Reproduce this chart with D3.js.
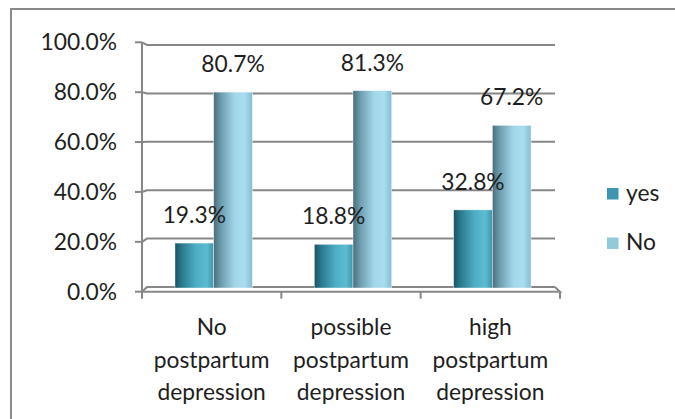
<!DOCTYPE html>
<html>
<head>
<meta charset="utf-8">
<script src="https://cdn.jsdelivr.net/npm/d3@7"></script>
<style>
  html, body { margin: 0; padding: 0; background: #fff; }
  svg { display: block; }
  text { font-family: Lato, "Noto Sans", sans-serif; fill: #1e1e1e; }
</style>
</head>
<body>
<svg id="chart" width="675" height="419"></svg>
<script>
// Depression level categories and share of answers per series
const categories = [
  ["No", "postpartum", "depression"],
  ["possible", "postpartum", "depression"],
  ["high", "postpartum", "depression"]
];
const seriesNames = ["yes", "No"];
const yesValues = [0.193, 0.188, 0.328];
const noValues = [0.807, 0.813, 0.672];
const yTicks = [0, 0.2, 0.4, 0.6, 0.8, 1.0];

const svg = d3.select("#chart");
const W = 675, H = 419;
const fontSize = 22.8;

// outer frame (right and bottom edges run off the page)
svg.append("rect")
  .attr("x", 11).attr("y", 9)
  .attr("width", W + 10).attr("height", H + 10)
  .attr("fill", "#fff")
  .attr("stroke", "#8a8a8a").attr("stroke-width", 2);

// 3D plot geometry: a front plane (axis ticks) and a back wall (gridlines)
const plot = { left: 142, right: 560, depth: 5 };
const yFront = d3.scaleLinear().domain([0, 1]).range([291.7, 42.3]);
const yBack = d3.scaleLinear().domain([0, 1]).range([287, 45]);
const yBar = d3.scaleLinear().domain([0, 1]).range([290.5, 44.7]);

const catIdx = d3.range(categories.length);
const x0 = d3.scaleBand().domain(catIdx).range([plot.left, plot.right]).padding(0);
const x1 = d3.scaleBand().domain(seriesNames).range([0, x0.bandwidth()])
  .paddingInner(0).paddingOuter(0.8);
const barShift = 2;

const gridColor = "#878787";

// back-wall gridlines with the short perspective leg back to the axis
const grid = svg.append("g");
yTicks.forEach(t => {
  grid.append("path")
    .attr("d", `M${plot.left},${yFront(t)} L${plot.left + plot.depth},${yBack(t)} L${plot.right - plot.depth},${yBack(t)}`)
    .attr("fill", "none").attr("stroke", gridColor).attr("stroke-width", 2);
});

// value axis: line, ticks and labels
const yAxisG = svg.append("g");
yAxisG.append("line")
  .attr("x1", plot.left).attr("x2", plot.left)
  .attr("y1", yFront(1)).attr("y2", yFront(0))
  .attr("stroke", gridColor).attr("stroke-width", 2);
yTicks.forEach(t => {
  yAxisG.append("line")
    .attr("x1", plot.left - 7).attr("x2", plot.left)
    .attr("y1", yFront(t)).attr("y2", yFront(t))
    .attr("stroke", gridColor).attr("stroke-width", 2);
});
const fmt = d3.format(".1%");
yAxisG.selectAll("text.ytick").data(yTicks).join("text")
  .attr("class", "ytick")
  .attr("x", 117)
  .attr("y", d => yFront(d) + 8)
  .attr("text-anchor", "end")
  .attr("font-size", fontSize)
  .text(d => fmt(d));

// cylinder-style shading for each series
const defs = svg.append("defs");
const shades = {
  yes: [["0%", "#1b5263"], ["18%", "#2b7a8e"], ["55%", "#4eaec5"], ["82%", "#5cbbd1"], ["100%", "#3e93a8"]],
  No: [["0%", "#4a6d7b"], ["20%", "#6f9fb1"], ["55%", "#a2d7e9"], ["80%", "#a9ddef"], ["100%", "#86bdd0"]]
};
seriesNames.forEach(s => {
  const g = defs.append("linearGradient").attr("id", "grad-" + s)
    .attr("x1", "0%").attr("x2", "100%").attr("y1", "0%").attr("y2", "0%");
  shades[s].forEach(([o, c]) => g.append("stop").attr("offset", o).attr("stop-color", c));
});

const rows = catIdx.map(i => ({ i, values: [
  { s: "yes", v: yesValues[i] },
  { s: "No", v: noValues[i] }
]}));

const floorTop = yBack(0) + 1;
const bars = svg.append("g");
rows.forEach(r => {
  r.values.forEach(d => {
    const bx = x0(r.i) + x1(d.s) + barShift;
    bars.append("rect")
      .attr("x", bx)
      .attr("y", yBar(d.v))
      .attr("width", x1.bandwidth())
      .attr("height", floorTop - yBar(d.v))
      .attr("fill", `url(#grad-${d.s})`)
      .attr("stroke", "rgba(255,255,255,0.7)").attr("stroke-width", 0.6);
  });
});

// floor front edge and category ticks
const floor = svg.append("g");
floor.append("path")
  .attr("d", `M${plot.left},${yFront(0)} L${plot.right},${yFront(0)} L${plot.right - plot.depth},${yBack(0)}`)
  .attr("fill", "none").attr("stroke", gridColor).attr("stroke-width", 2);
const catTicks = catIdx.map(i => x0(i)).concat([plot.right]);
catTicks.forEach(cx => {
  floor.append("line")
    .attr("x1", cx).attr("x2", cx)
    .attr("y1", yFront(0)).attr("y2", yFront(0) + 7)
    .attr("stroke", gridColor).attr("stroke-width", 2);
});

// value labels above bars
const labels = svg.append("g");
const pct = d3.format(".1%");
rows.forEach(r => {
  r.values.forEach(d => {
    labels.append("text")
      .attr("x", x0(r.i) + x1(d.s) + barShift + x1.bandwidth() / 2)
      .attr("y", yBar(d.v) - 20)
      .attr("text-anchor", "middle")
      .attr("font-size", fontSize)
      .text(pct(d.v));
  });
});

// category labels, three lines each
const catG = svg.append("g");
categories.forEach((lines, i) => {
  const t = catG.append("text")
    .attr("x", x0(i) + x0.bandwidth() / 2)
    .attr("y", 335)
    .attr("text-anchor", "middle")
    .attr("font-size", fontSize);
  lines.forEach((ln, k) => {
    t.append("tspan")
      .attr("x", x0(i) + x0.bandwidth() / 2)
      .attr("dy", k === 0 ? 0 : 32.5)
      .text(ln);
  });
});

// legend
const legendColors = { yes: "#3c97ae", No: "#92c9db" };
const legend = svg.append("g");
seriesNames.forEach((s, k) => {
  const ly = 200.5 + k * 49.5;
  legend.append("rect")
    .attr("x", 607).attr("y", ly - 12.5)
    .attr("width", 11.5).attr("height", 11.5)
    .attr("fill", legendColors[s]);
  legend.append("text")
    .attr("x", 626).attr("y", ly)
    .attr("font-size", fontSize)
    .text(s);
});
</script>
</body>
</html>
